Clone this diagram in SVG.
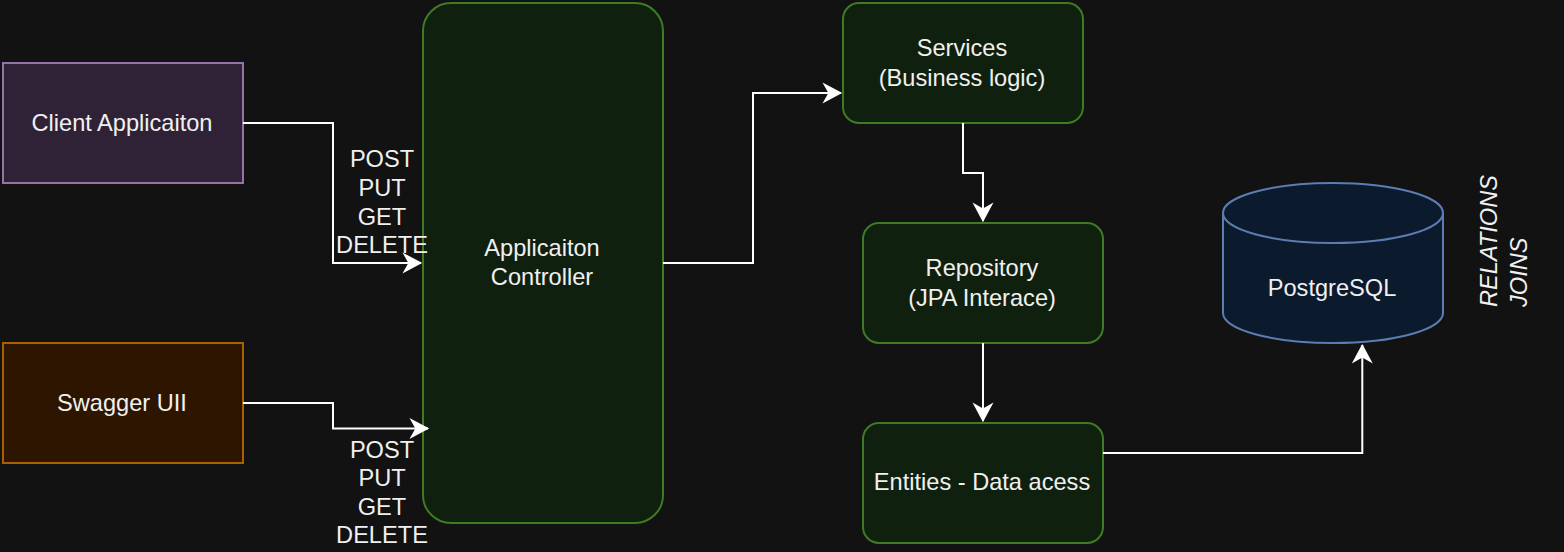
<svg xmlns="http://www.w3.org/2000/svg" width="1564" height="552" viewBox="0 0 1564 552">
  <defs>
    <style>
      text { font-family: "Liberation Sans", Arial, sans-serif; font-size: 23.6px; fill: #f0f0f0; text-anchor: middle; }
      .green { fill: #10200f; stroke: #3f7a24; stroke-width: 2; }
      .edge { fill: none; stroke: #ffffff; stroke-width: 2; }
      .it { font-style: italic; text-anchor: start; }
    </style>
    <marker id="arr" markerUnits="userSpaceOnUse" markerWidth="24" markerHeight="24" viewBox="-20 -12 24 24" refX="0" refY="0" orient="auto">
      <path d="M-1,0 L-16,-8 L-11.5,0 L-16,8 Z" fill="#ffffff" stroke="#ffffff" stroke-width="2" stroke-linejoin="miter"/>
    </marker>
  </defs>
  <rect width="1564" height="552" fill="#121212"/>

  <g id="client">
    <rect x="3" y="63" width="240" height="120" fill="#2f2237" stroke="#9673a6" stroke-width="2"/>
    <text x="122" y="130.5">Client Applicaiton</text>
  </g>
  <g id="swagger">
    <rect x="3" y="343" width="240" height="120" fill="#2e1500" stroke="#a86100" stroke-width="2"/>
    <text x="122" y="410.5">Swagger UII</text>
  </g>
  <g id="controller">
    <rect class="green" x="423" y="3" width="240" height="520" rx="28" ry="28"/>
    <text x="542" y="256">Applicaiton</text>
    <text x="542" y="285">Controller</text>
  </g>
  <g id="services">
    <rect class="green" x="843" y="3" width="240" height="120" rx="16" ry="16"/>
    <text x="962" y="56">Services</text>
    <text x="962" y="86">(Business logic)</text>
  </g>
  <g id="repository">
    <rect class="green" x="863" y="223" width="240" height="120" rx="16" ry="16"/>
    <text x="982" y="276">Repository</text>
    <text x="982" y="305.5">(JPA Interace)</text>
  </g>
  <g id="entities">
    <rect class="green" x="863" y="423" width="240" height="120" rx="16" ry="16"/>
    <text x="982" y="489.5">Entities - Data acess</text>
  </g>
  <g id="postgres">
    <path d="M1223,213 A110,30 0 0 1 1443,213 V313 A110,30 0 0 1 1223,313 Z" fill="#0c1a2e" stroke="#5b7db1" stroke-width="2"/>
    <path d="M1223,213 A110,30 0 0 0 1443,213" fill="none" stroke="#5b7db1" stroke-width="2"/>
    <text x="1332" y="295.5">PostgreSQL</text>
  </g>
  <g id="note">
    <text class="it" transform="translate(1496.5,307) rotate(-90)">RELATIONS</text>
    <text class="it" transform="translate(1526.5,307) rotate(-90)">JOINS</text>
  </g>

  <g id="connectors">
    <path class="edge" d="M243,123 H333 V263 H421" marker-end="url(#arr)"/>
    <path class="edge" d="M243,403 H333 V428.5 H428" marker-end="url(#arr)"/>
    <path class="edge" d="M663,263 H753 V93 H841" marker-end="url(#arr)"/>
    <path class="edge" d="M963,123 V173 H983 V221" marker-end="url(#arr)"/>
    <path class="edge" d="M983,343 V421" marker-end="url(#arr)"/>
    <path class="edge" d="M1103,453 H1362.3 V345" marker-end="url(#arr)"/>
  </g>

  <g id="labels-top">
    <text x="382" y="167.3">POST</text>
    <text x="382" y="196">PUT</text>
    <text x="382" y="224.7">GET</text>
    <text x="382" y="253.3">DELETE</text>
  </g>
  <g id="labels-bottom">
    <text x="382" y="457.5">POST</text>
    <text x="382" y="486">PUT</text>
    <text x="382" y="515">GET</text>
    <text x="382" y="543.3">DELETE</text>
  </g>
</svg>
